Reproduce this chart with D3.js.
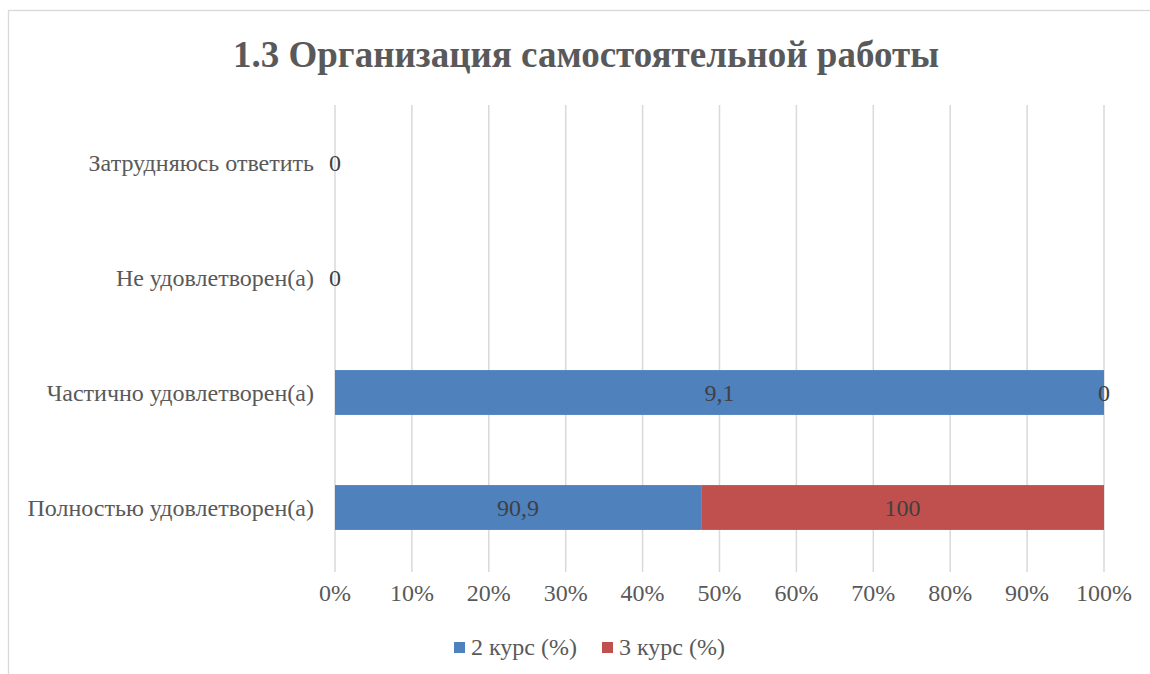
<!DOCTYPE html>
<html><head><meta charset="utf-8">
<script src="https://cdn.jsdelivr.net/npm/d3@7"></script>
</head><body style="margin:0">
<script>
const categories = ["Полностью удовлетворен(а)", "Частично удовлетворен(а)", "Не удовлетворен(а)", "Затрудняюсь ответить"];
const seriesNames = ["2 курс (%)", "3 курс (%)"];
const course2 = [90.9, 9.1, 0, 0];
const course3 = [100, 0, 0, 0];
const tickValues = [0, 0.1, 0.2, 0.3, 0.4, 0.5, 0.6, 0.7, 0.8, 0.9, 1];
const colors = ["#4F81BD", "#C0504D"];
const title = "1.3 Организация самостоятельной работы";

const W = 1150, H = 674;
const FONT = "Liberation Serif";
const svg = d3.select("body").append("svg").attr("width", W).attr("height", H)
  .style("display", "block");
svg.append("rect").attr("x", 8.5).attr("y", 10.5).attr("width", 1200).attr("height", 700)
  .attr("fill", "#fff").attr("stroke", "#d9d9d9").attr("stroke-width", 1.3);

const plot = {left: 335, right: 1104, top: 105, bottom: 565};

svg.append("text").attr("x", 586).attr("y", 67).attr("text-anchor", "middle")
  .attr("font-family", FONT).attr("font-weight", "bold").attr("font-size", 37)
  .attr("fill", "#595959").text(title);

const x = d3.scaleLinear().domain([0, 1]).range([plot.left, plot.right]);
const y = d3.scaleBand().domain(categories.slice().reverse()).range([plot.top, plot.bottom]).paddingInner(0.61).paddingOuter(0.305);

// gridlines
svg.append("g").selectAll("line").data(tickValues).join("line")
  .attr("x1", d => x(d)).attr("x2", d => x(d))
  .attr("y1", plot.top).attr("y2", plot.bottom + 7)
  .attr("stroke", "#d9d9d9").attr("stroke-width", 1.5);

const rows = categories.map((c, i) => {
  const a = course2[i], b = course3[i], t = a + b;
  return {cat: c, vals: [a, b], fr: t > 0 ? [a / t, b / t] : [0, 0]};
});

const g = svg.append("g");
rows.forEach(r => {
  let acc = 0;
  r.fr.forEach((f, k) => {
    const x0 = x(acc), x1 = x(acc + f);
    if (f > 0) {
      g.append("rect").attr("x", x0).attr("y", y(r.cat)).attr("width", x1 - x0)
        .attr("height", y.bandwidth()).attr("fill", colors[k]);
    }
    const showLabel = !(k === 1 && r.fr[0] + r.fr[1] === 0);
    if (showLabel) {
      g.append("text").attr("x", (x0 + x1) / 2).attr("y", y(r.cat) + y.bandwidth() / 2 + 8)
        .attr("text-anchor", "middle").attr("font-family", FONT).attr("font-size", 24)
        .attr("fill", "#404040").text(String(r.vals[k]).replace(".", ","));
    }
    acc += f;
  });
});

// category labels
svg.append("g").selectAll("text").data(categories).join("text")
  .attr("x", 314).attr("y", d => y(d) + y.bandwidth() / 2 + 8)
  .attr("text-anchor", "end").attr("font-family", FONT).attr("font-size", 24)
  .attr("fill", "#595959").text(d => d);

// x tick labels
svg.append("g").selectAll("text").data(tickValues).join("text")
  .attr("x", d => x(d)).attr("y", 601).attr("text-anchor", "middle")
  .attr("font-family", FONT).attr("font-size", 24).attr("fill", "#595959")
  .text(d => d3.format(".0%")(d));

// legend
const leg = svg.append("g");
const legX = [454, 602];
seriesNames.forEach((n, i) => {
  leg.append("rect").attr("x", legX[i]).attr("y", 642).attr("width", 11).attr("height", 11).attr("fill", colors[i]);
  leg.append("text").attr("x", legX[i] + 17).attr("y", 655).attr("font-family", FONT).attr("font-size", 24)
    .attr("fill", "#595959").text(n);
});
</script>
</body></html>
